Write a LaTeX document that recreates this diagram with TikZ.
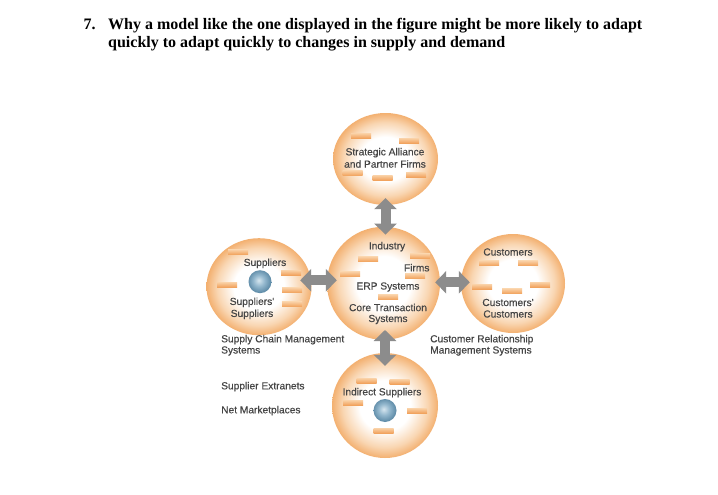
\documentclass[tikz,border=0pt]{standalone}
\usepackage{fontspec}
\setmainfont{Liberation Serif}
\newfontfamily\arialf[FakeBold=0.35]{Liberation Sans}
\usetikzlibrary{arrows.meta,shapes.geometric}
\definecolor{orbedge}{HTML}{F3B070}
\definecolor{orbmid}{HTML}{F9D6B2}
\definecolor{barhi}{HTML}{FAD2A8}
\definecolor{barlo}{HTML}{F1A35E}
\definecolor{arrowgray}{HTML}{8C8C8C}
\definecolor{labelgray}{HTML}{454545}
\definecolor{ballhi}{HTML}{D6E6EF}
\definecolor{ballmid}{HTML}{94B8CE}
\definecolor{ballrim}{HTML}{5F8CA8}
\pgfdeclareradialshading{orb}{\pgfpoint{0bp}{0bp}}{color(0bp)=(white); color(12bp)=(white); color(20bp)=(orbmid); color(25bp)=(orbedge); color(50bp)=(orbedge)}
\pgfdeclareradialshading{bluesph}{\pgfpoint{-3bp}{3bp}}{color(0bp)=(ballhi); color(12bp)=(ballmid); color(25bp)=(ballrim); color(50bp)=(ballrim)}
\tikzset{
  orbell/.style={ellipse, inner sep=0pt, shading=orb},
  bar/.style={rectangle, minimum width=20pt, minimum height=5pt, inner sep=0pt, top color=barhi, bottom color=barlo},
  sphere/.style={circle, minimum size=23pt, inner sep=0pt, shading=bluesph},
  lbl/.style={font=\arialf\fontsize{10.2}{11}\selectfont, text=labelgray, inner sep=0pt},
  side/.style={font=\arialf\fontsize{10.2}{11.2}\selectfont, text=labelgray, inner sep=0pt, align=left, anchor=base west},
  dblarrow/.style={draw=arrowgray, line width=10pt, {Triangle[length=11pt,width=22pt]}-{Triangle[length=11pt,width=22pt]}},
  title/.style={font=\bfseries\fontsize{16}{20}\selectfont, inner sep=0pt, anchor=base west}
}
\begin{document}
\begin{tikzpicture}[x=1pt,y=-1pt]
\useasboundingbox[fill=white] (0,0) rectangle (718,495);
% title
\node[title] (num) at (83.5,29.5) {7.};
\node[title] (t1) at (108,29.5) {Why a model like the one displayed in the figure might be more likely to adapt};
\node[title] (t2) at (108,48) {quickly to adapt quickly to changes in supply and demand};
% circles
\node[orbell, minimum width=105pt, minimum height=92pt] (T) at (385.5,159) {};
\node[orbell, minimum width=113pt, minimum height=113pt] (C) at (383.5,283.3) {};
\node[orbell, minimum width=105pt, minimum height=97pt] (L) at (259,286.7) {};
\node[orbell, minimum width=104pt, minimum height=99pt] (R) at (513,283.5) {};
\node[orbell, minimum width=106pt, minimum height=105pt] (B) at (385,405.5) {};
% bars top
\node[bar] (tb1) at (361,135.5) {};
\node[bar] (tb2) at (409,140.5) {};
\node[bar] (tb3) at (352.5,173) {};
\node[bar] (tb4) at (382.5,177.5) {};
\node[bar] (tb5) at (416,174.5) {};
% bars centre
\node[bar] (cb1) at (368,259) {};
\node[bar] (cb2) at (420,256) {};
\node[bar] (cb3) at (350,274) {};
\node[bar] (cb4) at (415,276) {};
\node[bar] (cb5) at (388,297) {};
% bars left
\node[bar] (lb1) at (238,252) {};
\node[bar] (lb2) at (291,272.5) {};
\node[bar] (lb3) at (227,284.5) {};
\node[bar] (lb4) at (292,290) {};
\node[bar] (lb5) at (292,304) {};
% bars right
\node[bar] (rb1) at (489,263) {};
\node[bar] (rb2) at (528,263) {};
\node[bar] (rb3) at (482,286.5) {};
\node[bar] (rb4) at (512,291) {};
\node[bar] (rb5) at (540,284.5) {};
% bars bottom
\node[bar] (bb1) at (366.5,380.5) {};
\node[bar] (bb2) at (399.5,381.5) {};
\node[bar] (bb3) at (353,402.5) {};
\node[bar] (bb4) at (417,410.5) {};
\node[bar] (bb5) at (383.5,430.5) {};
% spheres
\node[sphere] (ls) at (260,281.7) {};
\node[sphere] (bs) at (385,410.5) {};
% labels in circles
\node[lbl] (tl1) at (385,152.7) {Strategic Alliance};
\node[lbl] (tl2) at (385,164) {and Partner Firms};
\node[lbl] (cl1) at (387,246.7) {Industry};
\node[lbl] (cl2) at (416.7,267.7) {Firms};
\node[lbl] (cl3) at (388,287) {ERP Systems};
\node[lbl] (cl4) at (388,307.5) {Core Transaction};
\node[lbl] (cl5) at (388,319.5) {Systems};
\node[lbl] (ll1) at (265,263.3) {Suppliers};
\node[lbl] (ll2) at (252,302.3) {Suppliers'};
\node[lbl] (ll3) at (252,314.3) {Suppliers};
\node[lbl] (rl1) at (508,252) {Customers};
\node[lbl] (rl2) at (508,302.5) {Customers'};
\node[lbl] (rl3) at (508,314) {Customers};
\node[lbl] (bl1) at (382,392.7) {Indirect Suppliers};
% side texts
\node[side] (scm) at (221,353.5) {Supply Chain Management\\Systems};
\node[side] (sx) at (221,389.3) {Supplier Extranets};
\node[side] (nm) at (221,413.3) {Net Marketplaces};
\node[side] (crm) at (430,353.5) {Customer Relationship\\Management Systems};
% arrows
\draw[dblarrow, shorten <=-7pt, shorten >=-8pt] (T.south) -- (T.south |- C.north);
\draw[dblarrow, shorten <=-11.5pt, shorten >=-10pt] ([yshift=3pt]L.east |- C.west) -- ([yshift=3pt]C.west);
\draw[dblarrow, shorten <=-5pt, shorten >=-9pt] ([yshift=1pt]C.east) -- ([yshift=1pt]R.west |- C.east);
\draw[dblarrow, shorten <=-10pt, shorten >=-13pt] (B.north |- C.south) -- (B.north);
\end{tikzpicture}
\end{document}
